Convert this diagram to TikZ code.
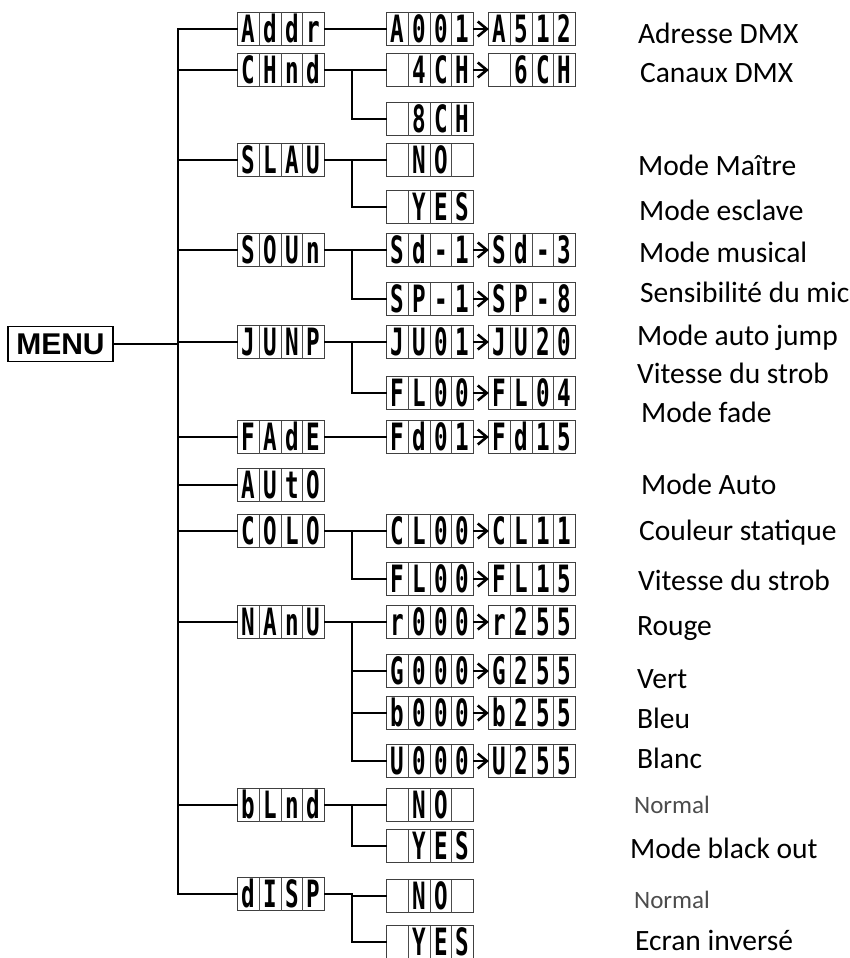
\documentclass[tikz,border=0pt]{standalone}
\usepackage{fontspec}
\setmainfont{Carlito}
\newfontfamily\lcdfont{DejaVu Sans Mono}
\newfontfamily\menufont{Liberation Sans}
\usetikzlibrary{arrows.meta}

% one cell of the display, and a 4-cell display
\newcommand{\lcdchar}[1]{\makebox[21pt]{\raisebox{-13.5pt}[0pt][0pt]{\scalebox{1.05}[1.75]{\fontsize{21.5}{21.5}\lcdfont\bfseries #1}}}}
\newcommand{\lcdsep}{{\color{black!70}\vrule width 0.8pt height 16.5pt depth 16.5pt}}
\newcommand{\lcdbox}[4]{\lcdchar{#1}\lcdsep\lcdchar{#2}\lcdsep\lcdchar{#3}\lcdsep\lcdchar{#4}}

\begin{document}
\begin{tikzpicture}[
  x=1pt, y=-1pt,
  line width=2.2pt,
  >={Straight Barb[length=9pt,width=15pt,line width=2.6pt]},
  lcd/.style={draw=black!75, line width=0.8pt, inner sep=0pt, outer sep=0pt},
  lbl/.style={anchor=base west, inner sep=0pt, font=\fontsize{29.5}{29.5}\selectfont},
  note/.style={anchor=base west, inner sep=0pt, text=black!70, font=\fontsize{25}{25}\selectfont}
]
\useasboundingbox (0,0) rectangle (850,958);

\node[draw, line width=1.8pt, minimum width=105pt, minimum height=35pt, inner sep=0pt,
  font=\menufont\bfseries\fontsize{30}{30}\selectfont] (menu) at (60.5,344) {MENU};

\coordinate (trunk) at (178,0);
\coordinate (br) at (352,0);

% first level
\node[lcd] (addr) at (281,29) {\lcdbox{A}{d}{d}{r}};
\node[lcd] (chnd) at (281,70) {\lcdbox{C}{H}{n}{d}};
\node[lcd] (slau) at (281,160) {\lcdbox{S}{L}{A}{U}};
\node[lcd] (soun) at (281,250) {\lcdbox{S}{O}{U}{n}};
\node[lcd] (jump) at (281,342) {\lcdbox{J}{U}{N}{P}};
\node[lcd] (fade) at (281,437) {\lcdbox{F}{A}{d}{E}};
\node[lcd] (auto) at (281,485) {\lcdbox{A}{U}{t}{O}};
\node[lcd] (colo) at (281,531) {\lcdbox{C}{O}{L}{O}};
\node[lcd] (manu) at (281,622) {\lcdbox{N}{A}{n}{U}};
\node[lcd] (blnd) at (281,805) {\lcdbox{b}{L}{n}{d}};
\node[lcd] (disp) at (281,894) {\lcdbox{d}{I}{S}{P}};

% second and third level
\node[lcd] (addrlo) at (430,29) {\lcdbox{A}{0}{0}{1}};
\node[lcd] (addrhi) at (532,29) {\lcdbox{A}{5}{1}{2}};
\node[lcd] (ch4) at (430,70) {\lcdbox{}{4}{C}{H}};
\node[lcd] (ch6) at (532,70) {\lcdbox{}{6}{C}{H}};
\node[lcd] (ch8) at (430,119) {\lcdbox{}{8}{C}{H}};
\node[lcd] (slno) at (430,160) {\lcdbox{}{N}{O}{}};
\node[lcd] (slyes) at (430,207) {\lcdbox{}{Y}{E}{S}};
\node[lcd] (sdlo) at (430,250) {\lcdbox{S}{d}{-}{1}};
\node[lcd] (sdhi) at (532,250) {\lcdbox{S}{d}{-}{3}};
\node[lcd] (splo) at (430,299) {\lcdbox{S}{P}{-}{1}};
\node[lcd] (sphi) at (532,299) {\lcdbox{S}{P}{-}{8}};
\node[lcd] (julo) at (430,342) {\lcdbox{J}{U}{0}{1}};
\node[lcd] (juhi) at (532,342) {\lcdbox{J}{U}{2}{0}};
\node[lcd] (fllo) at (430,393) {\lcdbox{F}{L}{0}{0}};
\node[lcd] (flhi) at (532,393) {\lcdbox{F}{L}{0}{4}};
\node[lcd] (fdlo) at (430,437) {\lcdbox{F}{d}{0}{1}};
\node[lcd] (fdhi) at (532,437) {\lcdbox{F}{d}{1}{5}};
\node[lcd] (cllo) at (430,531) {\lcdbox{C}{L}{0}{0}};
\node[lcd] (clhi) at (532,531) {\lcdbox{C}{L}{1}{1}};
\node[lcd] (cflo) at (430,579) {\lcdbox{F}{L}{0}{0}};
\node[lcd] (cfhi) at (532,579) {\lcdbox{F}{L}{1}{5}};
\node[lcd] (rlo) at (430,622) {\lcdbox{r}{0}{0}{0}};
\node[lcd] (rhi) at (532,622) {\lcdbox{r}{2}{5}{5}};
\node[lcd] (glo) at (430,671) {\lcdbox{G}{0}{0}{0}};
\node[lcd] (ghi) at (532,671) {\lcdbox{G}{2}{5}{5}};
\node[lcd] (blo) at (430,713) {\lcdbox{b}{0}{0}{0}};
\node[lcd] (bhi) at (532,713) {\lcdbox{b}{2}{5}{5}};
\node[lcd] (wlo) at (430,761) {\lcdbox{U}{0}{0}{0}};
\node[lcd] (whi) at (532,761) {\lcdbox{U}{2}{5}{5}};
\node[lcd] (bno) at (430,805) {\lcdbox{}{N}{O}{}};
\node[lcd] (byes) at (430,846) {\lcdbox{}{Y}{E}{S}};
\node[lcd] (dno) at (430,896) {\lcdbox{}{N}{O}{}};
\node[lcd] (dyes) at (430,942) {\lcdbox{}{Y}{E}{S}};

% trunk
\draw (menu.east) -- (trunk |- menu.east);
\draw[line cap=rect] (trunk |- addr) -- (trunk |- disp);
\foreach \n in {addr,chnd,slau,soun,jump,fade,auto,colo,manu,blnd,disp}
  \draw (trunk |- \n) -- (\n.west);

% branches
\draw (addr.east) -- (addrlo.west);
\draw (chnd.east) -- (ch4.west);
\draw (br |- chnd) |- (ch8.west);
\draw (slau.east) -- (slno.west);
\draw (br |- slau) |- (slyes.west);
\draw (soun.east) -- (sdlo.west);
\draw (br |- soun) |- (splo.west);
\draw (jump.east) -- (julo.west);
\draw (br |- jump) |- (fllo.west);
\draw (fade.east) -- (fdlo.west);
\draw (colo.east) -- (cllo.west);
\draw (br |- colo) |- (cflo.west);
\draw (manu.east) -- (rlo.west);
\draw (br |- manu) |- (wlo.west);
\draw (br |- glo) -- (glo.west);
\draw (br |- blo) -- (blo.west);
\draw (blnd.east) -- (bno.west);
\draw (br |- blnd) |- (byes.west);
\draw (disp.east) -- (br |- disp) -- (br |- dno) -- (dno.west);
\draw (br |- dno) |- (dyes.west);

% ranges
\foreach \a/\b in {addrlo/addrhi,ch4/ch6,sdlo/sdhi,splo/sphi,julo/juhi,fllo/flhi,fdlo/fdhi,cllo/clhi,cflo/cfhi,rlo/rhi,glo/ghi,blo/bhi,wlo/whi}
  \draw[->] (\a.east) -- (\b.west);

% texts
\node[lbl] (t1) at (637,44) {Adresse DMX};
\node[lbl] (t2) at (639,82) {Canaux DMX};
\node[lbl] (t3) at (637,175) {Mode Maître};
\node[lbl] (t4) at (638,220) {Mode esclave};
\node[lbl] (t5) at (638,262) {Mode musical};
\node[lbl] (t6) at (639,302) {Sensibilité du mic};
\node[lbl] (t7) at (636,345) {Mode auto jump};
\node[lbl] (t8) at (636,383) {Vitesse du strob};
\node[lbl] (t9) at (640,422) {Mode fade};
\node[lbl] (t10) at (640,494) {Mode Auto};
\node[lbl] (t11) at (638,540) {Couleur statique};
\node[lbl] (t12) at (637,590) {Vitesse du strob};
\node[lbl] (t13) at (636,635) {Rouge};
\node[lbl] (t14) at (636,688) {Vert};
\node[lbl] (t15) at (636,728) {Bleu};
\node[lbl] (t16) at (636,768) {Blanc};
\node[note] (t17) at (633,813) {Normal};
\node[lbl] (t18) at (629,858) {Mode black out};
\node[note] (t19) at (633,908) {Normal};
\node[lbl] (t20) at (634,950) {Ecran inversé};

\end{tikzpicture}
\end{document}
